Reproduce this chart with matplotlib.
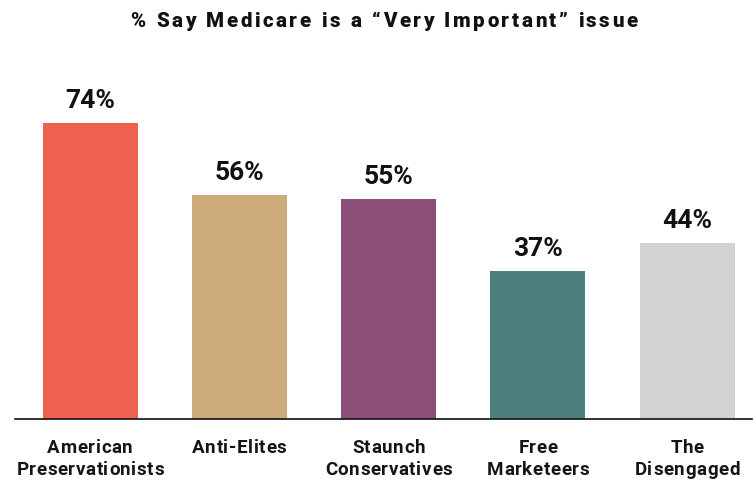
import matplotlib.pyplot as plt
from matplotlib.font_manager import FontProperties, findfont
from matplotlib.ft2font import FT2Font, LoadFlags
from matplotlib.transforms import blended_transform_factory

# Share of each segment saying Medicare is a "Very Important" issue
segments = ["American\nPreservationists", "Anti-Elites", "Staunch\nConservatives",
            "Free\nMarketeers", "The\nDisengaged"]
values = [74, 56, 55, 37, 44]
colors = ["#EE6150", "#CDAB7B", "#8A4E78", "#4C7F7D", "#D3D1D2"]
title = "% Say Medicare is a \u201cVery Important\u201d issue"

DPI = 100
plt.rcParams['font.family'] = ['Roboto', 'DejaVu Sans']


def spaced_text(ax, s, xy, xycoords, dy, size, weight, track, color='#151515'):
    """Draw a centred line of text with extra letter spacing (in pixels)."""
    fp = FontProperties(family='Roboto', weight=weight, size=size)
    font = FT2Font(findfont(fp))
    font.set_size(size, DPI)
    adv = [font.load_char(ord(c), flags=LoadFlags.NO_HINTING).linearHoriAdvance / 65536
           for c in s]
    total = sum(adv) + track * (len(s) - 1)
    x = -total / 2
    for c, a in zip(s, adv):
        if c != ' ':
            ax.annotate(c, xy, xycoords=xycoords, xytext=(x, dy),
                        textcoords='offset pixels', ha='left', va='baseline',
                        fontproperties=fp, color=color, annotation_clip=False)
        x += a + track


fig = plt.figure(figsize=(7.53, 4.80), dpi=DPI)
ax = fig.add_axes([0.02, 0.127, 0.979, 0.75])

x = range(len(values))
bars = ax.bar(x, values, width=0.637, color=colors)

for bar, v in zip(bars, values):
    ax.text(bar.get_x() + bar.get_width() / 2, v + 3.75, f"{v}%",
            ha='center', va='baseline', fontsize=19, fontweight='bold', color='#111111')

ax.set_xlim(-0.5025, 4.436)
ax.set_ylim(0, 90)
ax.set_xticks([])
ax.set_yticks([])

for side in ['top', 'right', 'left']:
    ax.spines[side].set_visible(False)
ax.spines['bottom'].set_color('#111111')
ax.spines['bottom'].set_linewidth(1.2)

# category labels under the bars, two lines where needed
trans = blended_transform_factory(ax.transData, ax.transAxes)
for i, label in enumerate(segments):
    for j, line in enumerate(label.split("\n")):
        spaced_text(ax, line, (i, 0), trans, -33.7 - 22.3 * j,
                    13.5, 'semibold', 0.6)

spaced_text(ax, title, (384 / 753, 1 - 27 / 480), 'figure fraction', 0,
            14.8, 'heavy', 2.6, color='#111111')

fig.savefig("out.png", dpi=DPI, facecolor='white')
